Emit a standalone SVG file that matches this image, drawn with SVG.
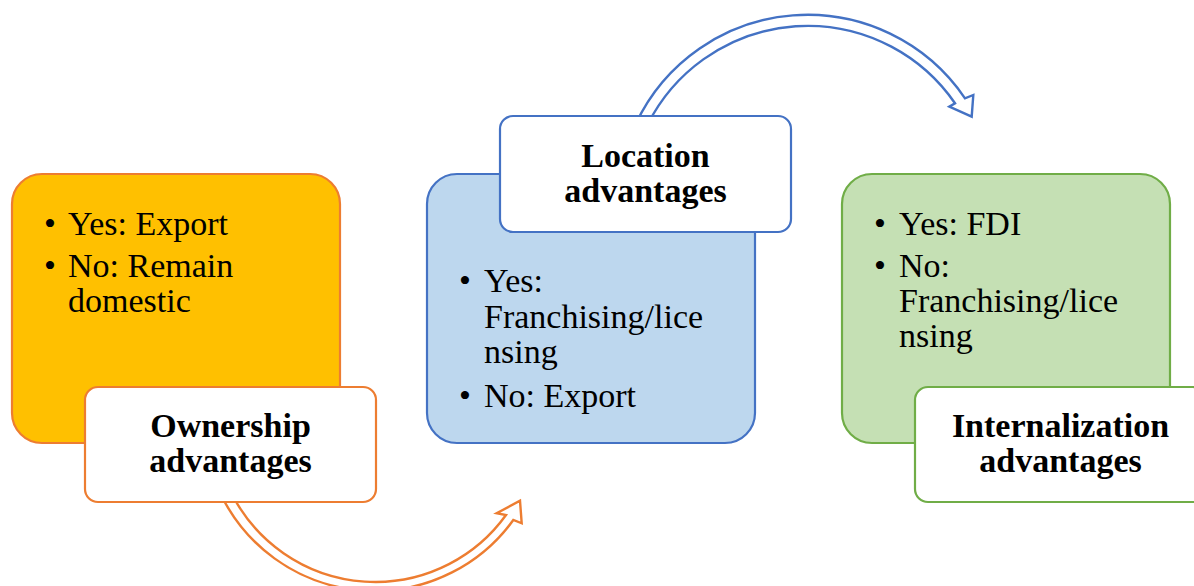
<svg xmlns="http://www.w3.org/2000/svg" width="1194" height="586" viewBox="0 0 1194 586">
<style>
.lab{font-weight:bold;fill:#000;text-anchor:middle}
.box{stroke-width:2.2}
.arr{fill:#fff;stroke-width:2.4;stroke-linejoin:miter}
</style>
<rect width="1194" height="586" fill="#fff"/>
<g id="connectors">
<path class="arr" stroke="#ED7D31" d="M222.1,497 A171,171 0 0 0 513.3,520 L521.7,523.3 L520,500.7 L496.7,513.3 L506,515 A161,161 0 0 1 233.4,497 Z"/>
<path class="arr" stroke="#4472C4" d="M635.7,124 A190,190 0 0 1 965,98.3 L973.3,95 L971.7,116.7 L949.3,106.7 L955,103.3 A179,179 0 0 0 647.9,124 Z"/>
</g>
<g id="ownership">
<rect class="box" x="12" y="174" width="328" height="269" rx="30" fill="#FFC000" stroke="#ED7D31"/>
<text font-family="Liberation Serif" font-size="34" x="44" y="235">•</text>
<text font-family="Liberation Serif" font-size="34" x="68" y="235">Yes: Export</text>
<text font-family="Liberation Serif" font-size="34" x="44" y="277">•</text>
<text font-family="Liberation Serif" font-size="34" x="68" y="277">No: Remain</text>
<text font-family="Liberation Serif" font-size="34" x="68" y="312">domestic</text>
<rect class="box" x="85" y="387" width="291" height="115" rx="13" fill="#fff" stroke="#ED7D31"/>
<text class="lab" font-family="Liberation Serif" font-size="34" x="230.5" y="437">Ownership</text>
<text class="lab" font-family="Liberation Serif" font-size="34" x="230.5" y="472">advantages</text>
</g>
<g id="location">
<rect class="box" x="427" y="174" width="328" height="269" rx="30" fill="#BDD7EE" stroke="#4472C4"/>
<text font-family="Liberation Serif" font-size="34" x="459" y="292">•</text>
<text font-family="Liberation Serif" font-size="34" x="484" y="292">Yes:</text>
<text font-family="Liberation Serif" font-size="34" x="484" y="328">Franchising/lice</text>
<text font-family="Liberation Serif" font-size="34" x="484" y="363">nsing</text>
<text font-family="Liberation Serif" font-size="34" x="459" y="407">•</text>
<text font-family="Liberation Serif" font-size="34" x="484" y="407">No: Export</text>
<rect class="box" x="500" y="116" width="291" height="116" rx="13" fill="#fff" stroke="#4472C4"/>
<text class="lab" font-family="Liberation Serif" font-size="34" x="645.5" y="167">Location</text>
<text class="lab" font-family="Liberation Serif" font-size="34" x="645.5" y="202">advantages</text>
</g>
<g id="internalization">
<rect class="box" x="842" y="174" width="328" height="269" rx="30" fill="#C5E0B4" stroke="#70AD47"/>
<text font-family="Liberation Serif" font-size="34" x="874" y="235">•</text>
<text font-family="Liberation Serif" font-size="34" x="899" y="235">Yes: FDI</text>
<text font-family="Liberation Serif" font-size="34" x="874" y="277">•</text>
<text font-family="Liberation Serif" font-size="34" x="899" y="277">No:</text>
<text font-family="Liberation Serif" font-size="34" x="899" y="312">Franchising/lice</text>
<text font-family="Liberation Serif" font-size="34" x="899" y="347">nsing</text>
<rect class="box" x="915" y="387" width="291" height="115" rx="13" fill="#fff" stroke="#70AD47"/>
<text class="lab" font-family="Liberation Serif" font-size="34" x="1060.5" y="437">Internalization</text>
<text class="lab" font-family="Liberation Serif" font-size="34" x="1060.5" y="472">advantages</text>
</g>
</svg>
